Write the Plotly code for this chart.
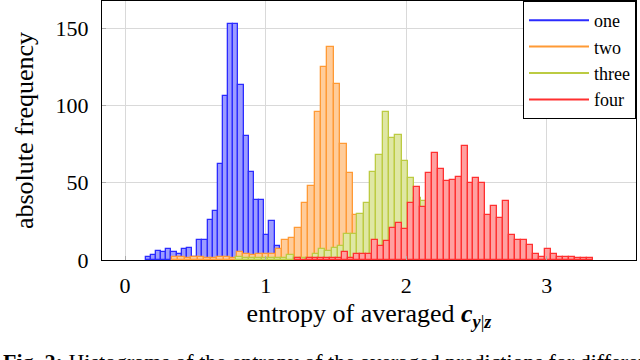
import plotly.graph_objects as go

# histogram counts, 50 bins per series
# (first bin left edge and bin width per series)
one_start, one_width = 0.146, 0.0367
two_start, two_width = 0.331, 0.0462
three_start, three_width = 0.792, 0.0452
four_start, four_width = 1.206, 0.0424

one_counts = [2, 3, 6, 5, 7, 5, 4, 7, 8, 2, 13, 13, 26, 32, 62, 106, 153, 153, 113, 80,
              57, 39, 39, 16, 25, 9, 1, 1, 0, 1, 0, 0, 1, 0, 0, 1, 0, 0, 0, 0,
              0, 0, 0, 0, 0, 0, 0, 0, 0, 0]
two_counts = [2, 2, 1, 2, 2, 1, 1, 2, 2, 1, 5, 4, 3, 4, 4, 4, 7, 13, 14, 21,
              37, 48, 96, 125, 138, 114, 75, 56, 29, 22, 17, 13, 10, 8, 7, 6, 5, 4, 4, 3,
              3, 2, 2, 2, 1, 1, 1, 1, 0, 1]
three_counts = [2, 1, 1, 1, 1, 1, 1, 1, 3, 1, 1, 1, 4, 7, 6, 8, 9, 17, 17, 30,
                37, 57, 68, 96, 79, 81, 64, 53, 40, 38, 35, 30, 26, 22, 18, 15, 12, 10, 8, 6,
                5, 4, 3, 3, 2, 2, 1, 1, 1, 1]
four_counts = [1, 0, 1, 1, 1, 1, 1, 1, 5, 1, 4, 4, 4, 13, 9, 12, 21, 24, 20, 37,
               47, 34, 56, 69, 59, 51, 52, 54, 74, 50, 53, 50, 29, 35, 27, 38, 16, 13, 13, 10,
               4, 2, 7, 4, 2, 2, 2, 1, 1, 1]

series_names = ["one", "two", "three", "four"]
x_ticks = [0, 1, 2, 3]
y_ticks = [0, 50, 100, 150]

series = [
    (one_start, one_width, one_counts, "#2b2bff", "#9c9cff"),
    (two_start, two_width, two_counts, "#ff9a35", "#ffcc9a"),
    (three_start, three_width, three_counts, "#bccb42", "#dfe7a4"),
    (four_start, four_width, four_counts, "#ff3030", "#ffa0a0"),
]

FONT = "Liberation Serif, Times New Roman, serif"

fig = go.Figure()
for name, (start, width, counts, line_c, fill_c) in zip(series_names, series):
    centers = [start + width * (i + 0.5) for i in range(len(counts))]
    fig.add_trace(go.Bar(
        x=centers, y=counts, width=width, name=name, showlegend=False,
        marker=dict(color=fill_c, line=dict(color=line_c, width=1.3)),
    ))
# legend shows line samples like the original
for name, (_, _, _, line_c, _) in zip(series_names, series):
    fig.add_trace(go.Scatter(x=[None], y=[None], mode="lines", name=name,
                             line=dict(color=line_c, width=2)))

fig.update_layout(
    width=640, height=360,
    margin=dict(l=102, r=4, t=1, b=100),
    barmode="overlay", bargap=0,
    plot_bgcolor="white", paper_bgcolor="white",
    font=dict(family=FONT, size=22, color="black"),
    legend=dict(x=1, y=1, xanchor="right", yanchor="top",
                bgcolor="white", bordercolor="black", borderwidth=1,
                font=dict(size=18), itemwidth=60, tracegroupgap=0),
    annotations=[dict(
        text="<b>Fig. 2:</b> Histograms of the entropy of the averaged predictions for different SNR",
        xref="paper", yref="paper", x=-0.19, y=-0.335, xanchor="left", yanchor="top",
        showarrow=False, font=dict(size=22, family=FONT),
    )],
)
fig.update_xaxes(
    range=[-0.164, 3.634], tickvals=x_ticks, showgrid=True, gridcolor="#d9d9d9",
    showline=True, linecolor="black", linewidth=1, mirror=True,
    ticks="inside", ticklen=4, tickcolor="#aaaaaa", ticklabelstandoff=6,
    zeroline=False,
    title=dict(text="entropy of averaged <b><i>c</i></b><sub><b><i>y</i></b>|<b><i>z</i></b></sub>",
               standoff=6),
)
fig.update_yaxes(
    range=[0, 167.6], tickvals=y_ticks, showgrid=True, gridcolor="#d9d9d9",
    showline=True, linecolor="black", linewidth=1, mirror=True,
    ticks="inside", ticklen=4, tickcolor="#aaaaaa", ticklabelstandoff=8,
    zeroline=False,
    title=dict(text="absolute frequency", standoff=14),
)

fig.write_html("out.html", config={"displayModeBar": False},
               post_script="document.body.style.margin='0';")
